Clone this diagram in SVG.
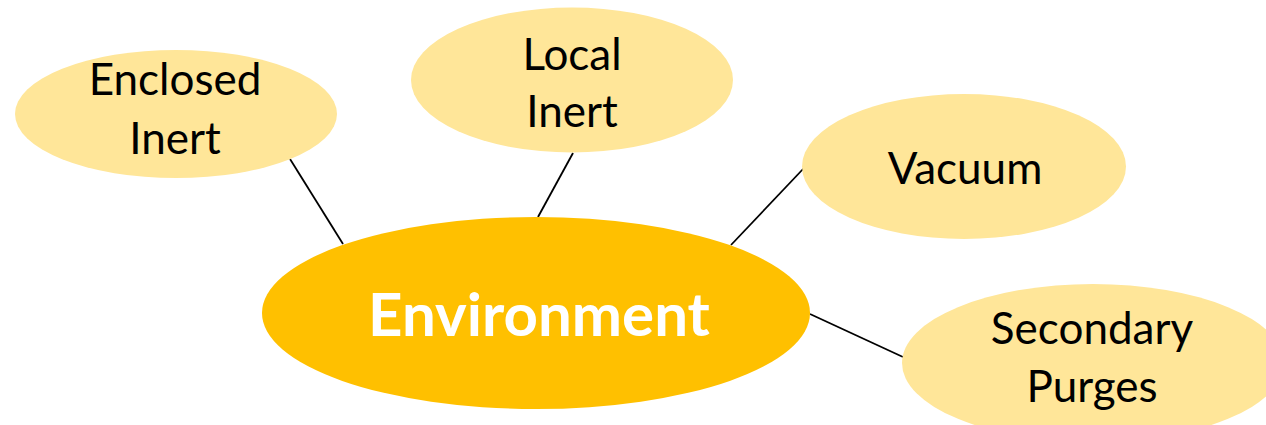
<svg xmlns="http://www.w3.org/2000/svg" width="1266" height="425" viewBox="0 0 1266 425">
  <style>
    .link { stroke: #000000; stroke-width: 1.8; fill: none; }
    .leaf { fill: #FFE699; }
    .hub { fill: #FFC000; }
    .leaf-label { font-family: Lato, "Open Sans", "Liberation Sans", sans-serif; font-size: 44px; fill: #000000; text-anchor: middle; }
    .hub-label { font-family: Lato, "Open Sans", "Liberation Sans", sans-serif; font-size: 60px; font-weight: bold; fill: #FFFFFF; text-anchor: middle; }
  </style>
  <rect width="1266" height="425" fill="#FFFFFF"/>

  <g id="connectors">
    <line class="link" x1="290" y1="159" x2="343" y2="244"/>
    <line class="link" x1="573" y1="153" x2="538" y2="217"/>
    <line class="link" x1="804" y1="168" x2="731" y2="245"/>
    <line class="link" x1="810" y1="314" x2="903" y2="357"/>
  </g>

  <g id="node-environment">
    <ellipse class="hub" cx="536" cy="313" rx="274" ry="96"/>
    <text class="hub-label" x="539" y="336">Environment</text>
  </g>

  <g id="node-enclosed-inert">
    <ellipse class="leaf" cx="176" cy="114" rx="161" ry="64"/>
    <text class="leaf-label" x="175" y="95">Enclosed</text>
    <text class="leaf-label" x="175" y="154">Inert</text>
  </g>

  <g id="node-local-inert">
    <ellipse class="leaf" cx="572" cy="80" rx="161" ry="72.5"/>
    <text class="leaf-label" x="572" y="70">Local</text>
    <text class="leaf-label" x="572" y="127">Inert</text>
  </g>

  <g id="node-vacuum">
    <ellipse class="leaf" cx="964" cy="166.5" rx="162" ry="72.5"/>
    <text class="leaf-label" x="965" y="184">Vacuum</text>
  </g>

  <g id="node-secondary-purges">
    <ellipse class="leaf" cx="1093" cy="363" rx="191" ry="79"/>
    <text class="leaf-label" x="1092" y="344">Secondary</text>
    <text class="leaf-label" x="1092" y="402">Purges</text>
  </g>
</svg>
